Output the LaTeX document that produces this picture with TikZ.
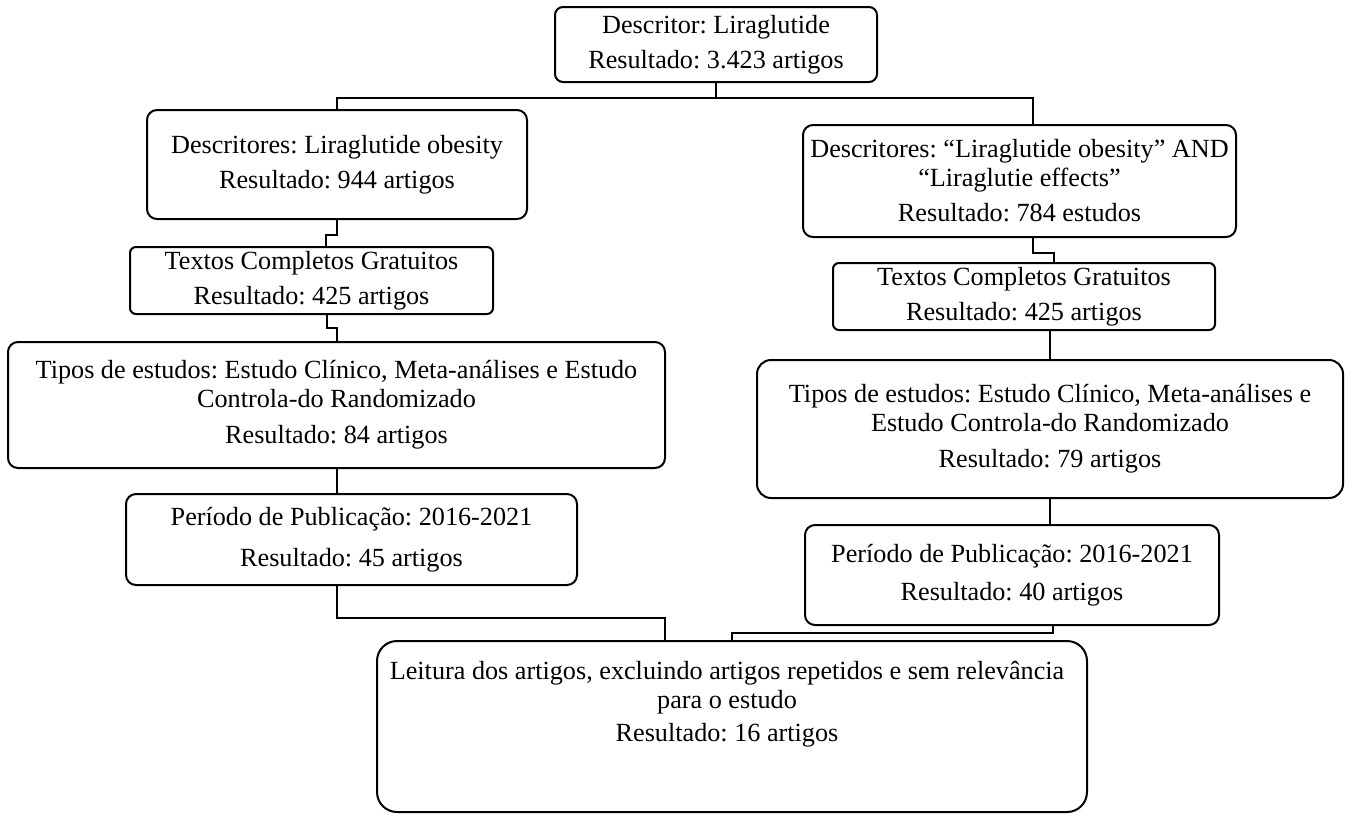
\documentclass[tikz,border=0pt]{standalone}
\usepackage{fontspec}
\setmainfont{Liberation Serif}
\usepackage{tikz}
\frenchspacing

\begin{document}
\begin{tikzpicture}[x=0.5pt,y=-0.5pt,
    caixa/.style={draw,rounded corners=5pt,line width=1pt,inner sep=0pt,align=center,
      font=\fontsize{13.1}{14.5}\selectfont},
    liga/.style={line width=1pt}]
    \useasboundingbox (0,0) rectangle (1354,816);
    \node [caixa,rounded corners=4pt,minimum width=161pt,minimum height=37.5pt] (desc) at (716,44.5)
      {Descritor: Liraglutide\\[3pt]Resultado: 3.423 artigos};
    \node [caixa,minimum width=190pt,minimum height=54.5pt] (lob) at (337,164.5)
      {Descritores: Liraglutide obesity\\[3pt]Resultado: 944 artigos};
    \node [caixa,rounded corners=3pt,minimum width=181.5pt,minimum height=33.5pt] (ltc) at (311.5,280.5)
      {Textos Completos Gratuitos\\[3pt]Resultado: 425 artigos};
    \node [caixa,minimum width=328.5pt,minimum height=63pt] (ltipo) at (336.5,405)
      {Tipos de estudos: Estudo Clínico, Meta-análises e Estudo\\Controla-do Randomizado\\[3.5pt]Resultado: 84 artigos};
    \node [caixa,minimum width=225.5pt,minimum height=45.5pt] (lper) at (351.5,539.5)
      {Período de Publicação: 2016-2021\\[6pt]Resultado: 45 artigos};
    \node [caixa,minimum width=216.5pt,minimum height=56pt] (rob) at (1019.5,181)
      {Descritores: “Liraglutide obesity” AND\\“Liraglutie effects”\\[3pt]Resultado: 784 estudos};
    \node [caixa,rounded corners=3pt,minimum width=191pt,minimum height=33.5pt] (rtc) at (1024,296.5)
      {Textos Completos Gratuitos\\[3pt]Resultado: 425 artigos};
    \node [caixa,rounded corners=7pt,minimum width=293pt,minimum height=69pt] (rtipo) at (1050,429)
      {Tipos de estudos: Estudo Clínico, Meta-análises e\\Estudo Controla-do Randomizado\\[3.5pt]Resultado: 79 artigos};
    \node [caixa,minimum width=207pt,minimum height=50pt] (rper) at (1012,575)
      {Período de Publicação: 2016-2021\\[4.5pt]Resultado: 40 artigos};
    \node [caixa,rounded corners=10pt,minimum width=355pt,minimum height=85.5pt] (fim) at (732,726.5) {};
    \node [align=center,inner sep=0pt,font=\fontsize{13.1}{14.5}\selectfont] (fimtexto) at (727,704)
      {Leitura dos artigos, excluindo artigos repetidos e sem relevância\\para o estudo\\[2pt]Resultado: 16 artigos};

    \draw [liga] (desc.south) -- ++(0,15) coordinate (meio);
    \draw [liga] (lob.north) |- ([xshift=6.75pt]rob.north |- meio) -- ([xshift=6.75pt]rob.north);
    \draw [liga] (lob.south) -- ++(0,15) -| ([xshift=7.25pt]ltc.north);
    \draw [liga] ([xshift=7.75pt]ltc.south) -- ++(0,13) -| (ltipo.north);
    \draw [liga] (ltipo.south) -- (ltipo.south |- lper.north);
    \draw [liga] ([xshift=-7.25pt]lper.south) -- ++(0,32) -| ([xshift=-33.5pt]fim.north);
    \draw [liga] ([xshift=6.75pt]rob.south) -- ++(0,15) -| ([xshift=15pt]rtc.north);
    \draw [liga] (rtipo.north |- rtc.south) -- (rtipo.north);
    \draw [liga] (rtipo.south) -- (rtipo.south |- rper.north);
    \draw [liga] ([xshift=20.5pt]rper.south) -- ++(0,7) -| (fim.north);
\end{tikzpicture}
\end{document}
